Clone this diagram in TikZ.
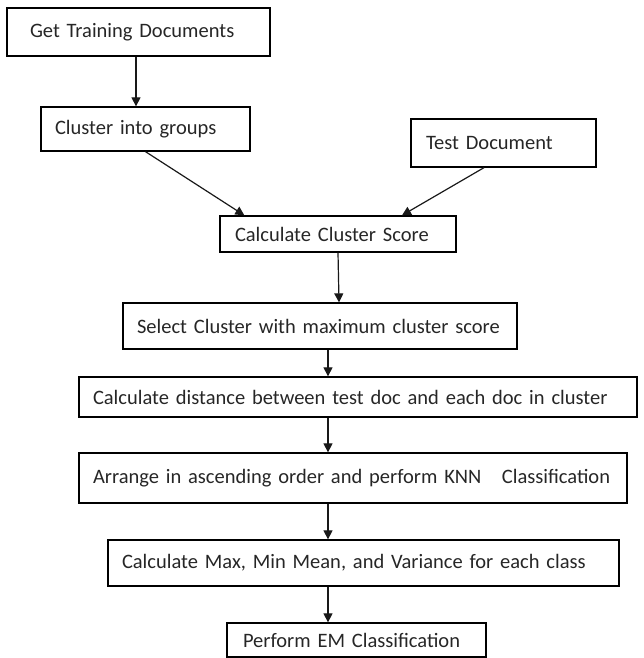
\documentclass[tikz,border=0pt]{standalone}
\usepackage{fontspec}
\setmainfont{Carlito}
\usetikzlibrary{arrows.meta}
\begin{document}
\begin{tikzpicture}[x=1pt,y=-1pt,
  box/.style={draw=black, line width=1.3pt, rectangle, align=left, inner ysep=0pt,
    font=\fontsize{20.5}{24}\selectfont, text=black!85},
  arr/.style={draw=black!90, line width=1.2pt, -{Triangle[width=9pt,length=9pt]}, shorten >=0pt}]
\useasboundingbox (0,0) rectangle (643,658);
\newcommand{\flowbox}[8]{% name, x1, x2, y1, y2, pad, text
  \node[box, minimum height={#5-#4}, inner xsep=#6, text width={#3-#2-2*#6}]
    (#1) at ({(#2+#3)/2},{(#4+#5)/2+#8}) {#7};}
\flowbox{b1}{7}{270}{8}{56}{23}{Get Training Documents}{0}
\flowbox{b2}{41}{250}{107}{151}{14}{Cluster into groups}{0}
\flowbox{b3}{411}{596}{119}{167}{15}{Test Document}{0}
\flowbox{b4}{220}{456}{216}{252}{15}{Calculate Cluster Score}{0}
\flowbox{b5}{123}{517}{303}{349}{14}{Select Cluster with maximum cluster score}{0}
\flowbox{b6}{79}{637}{377}{417}{14}{Calculate distance between test doc and each doc in cluster}{0}
\flowbox{b7}{79}{627}{453}{503}{14}{Arrange in ascending order and perform KNN\ \ \ Classification}{0}
\flowbox{b8}{108}{619}{540}{586}{14}{Calculate Max, Min Mean, and Variance for each class}{0}
\flowbox{b9}{227}{486}{623}{657}{16}{Perform EM Classification}{0}
\draw[arr] ([xshift=-2.5]b1.south) -- ([xshift=-9.5]b2.north);
\draw[arr] (b2.south) -- ([xshift=25]b4.north west);
\draw[arr] ([xshift=-19.5]b3.south) -- ([xshift=64]b4.north);
\draw[arr] (b4.south) -- ([xshift=19]b5.north);
\draw[arr] ([xshift=8]b5.south) -- ([xshift=-30]b6.north);
\draw[arr] ([xshift=-30]b6.south) -- ([xshift=-25]b7.north);
\draw[arr] ([xshift=-25]b7.south) -- ([xshift=-35.5]b8.north);
\draw[arr] ([xshift=-35.5]b8.south) -- ([xshift=-28.5]b9.north);
\end{tikzpicture}
\end{document}
